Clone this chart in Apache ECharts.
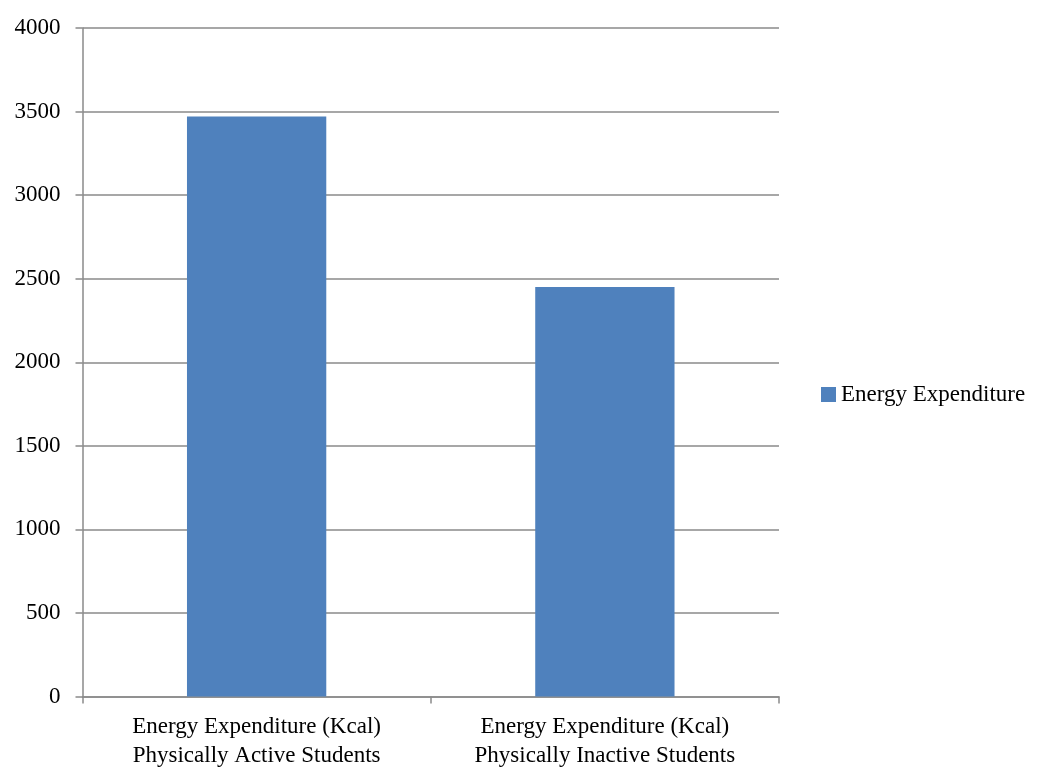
<!DOCTYPE html>
<html>
<head>
<meta charset="utf-8">
<script src="https://cdn.jsdelivr.net/npm/echarts@6/dist/echarts.min.js"></script>
<style>
  html, body { margin: 0; padding: 0; background: #fff; }
  #chart { width: 1038px; height: 771px; }
</style>
</head>
<body>
<div id="chart"></div>
<script>
// Daily energy expenditure by student group
const categories = [
  'Energy Expenditure (Kcal)\nPhysically Active Students',
  'Energy Expenditure (Kcal)\nPhysically Inactive Students'
];
const seriesName = 'Energy Expenditure';
const values = [3470, 2450];

const FONT = '"Liberation Serif", "DejaVu Serif", serif';
const FONT_SIZE = 23;
const AXIS_GRAY = '#8a8a8a';

const chart = echarts.init(document.getElementById('chart'), null, { renderer: 'canvas' });
chart.setOption({
  animation: false,
  backgroundColor: '#ffffff',
  textStyle: { fontFamily: FONT, color: '#000' },
  grid: { left: 82.5, right: 259, top: 28, bottom: 74.5, containLabel: false },
  legend: {
    data: [seriesName],
    orient: 'vertical',
    left: 821,
    top: 383,
    padding: 0,
    itemWidth: 15,
    itemHeight: 15,
    itemGap: 6,
    icon: 'rect',
    textStyle: { fontFamily: FONT, fontSize: FONT_SIZE, color: '#000' }
  },
  xAxis: {
    type: 'category',
    data: categories,
    axisLine: { lineStyle: { color: AXIS_GRAY, width: 1.5 } },
    axisTick: { show: true, alignWithLabel: false, length: 7, lineStyle: { color: AXIS_GRAY, width: 1.5 } },
    axisLabel: { fontFamily: FONT, fontSize: FONT_SIZE, color: '#000', lineHeight: 29, margin: 16, interval: 0 }
  },
  yAxis: {
    type: 'value',
    min: 0,
    max: 4000,
    interval: 500,
    axisLine: { show: true, lineStyle: { color: AXIS_GRAY, width: 1.5 } },
    axisTick: { show: true, length: 7, lineStyle: { color: AXIS_GRAY, width: 1.5 } },
    axisLabel: {
      fontFamily: FONT, fontSize: FONT_SIZE, color: '#000', margin: 22,
      formatter: function (v) { return String(v); }
    },
    splitLine: { show: true, lineStyle: { color: AXIS_GRAY, width: 1.5 } }
  },
  series: [{
    name: seriesName,
    type: 'bar',
    data: values,
    barWidth: '40%',
    itemStyle: { color: '#4F81BD' }
  }]
});
</script>
</body>
</html>
